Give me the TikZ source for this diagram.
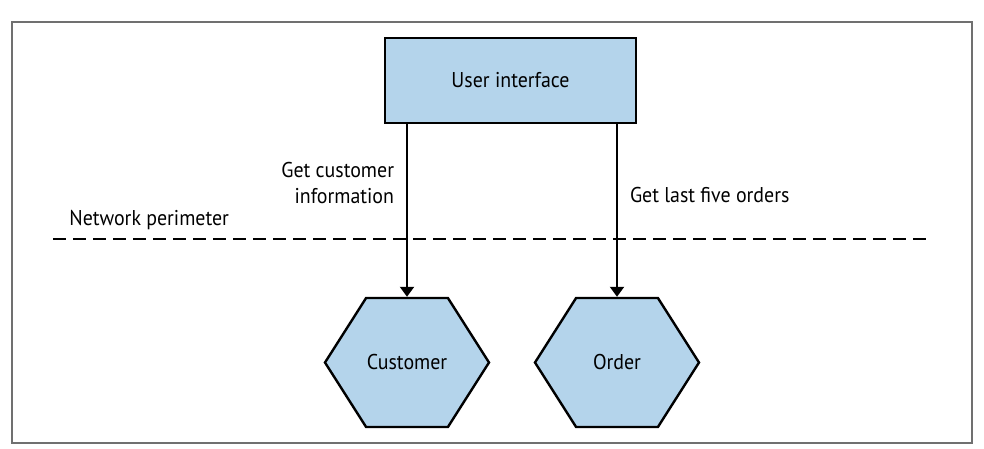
\documentclass[tikz,border=0pt]{standalone}
\usepackage{fontspec}
\setmainfont{PT Sans}[FakeStretch=0.93]
\usepackage{xcolor}
\usetikzlibrary{shapes.symbols, arrows.meta, positioning}

\definecolor{paleblue}{RGB}{180,212,235}
\definecolor{framegray}{RGB}{112,112,112}

\begin{document}
\begin{tikzpicture}[
    x=0.5pt, y=-0.5pt,
    font=\fontsize{10.7}{13}\selectfont,
    box/.style={
        rectangle,
        draw=black,
        line width=1.2pt,
        fill=paleblue,
        minimum width=125.5pt,
        minimum height=42.5pt
    },
    service/.style={
        signal,
        signal to=east and west,
        signal pointer angle=115,
        draw=black,
        line width=1.2pt,
        fill=paleblue,
        minimum width=82pt,
        minimum height=64.5pt,
        inner sep=0pt
    },
    lbl/.style={inner sep=1pt},
    call/.style={-{Triangle[length=5pt, width=7pt]}, line width=1pt}
]
    \useasboundingbox (0,0) rectangle (984,449);

    % Frame
    \draw[framegray, line width=1pt] (12,22) rectangle (972,443);

    % 1. User interface (Top)
    \node (ui) [box] at (510.5,80.5) {User interface};

    % 2. Customer and Order (Bottom)
    \node (cust) [service] at (407,362.5) {Customer};
    \node (order) [service] at (617,362.5) {Order};

    % 3. Network perimeter
    \coordinate (perimL) at (53,239);
    \coordinate (perimR) at (932,239);
    \draw[line width=1.4pt, dash pattern=on 6.5pt off 3.5pt] (perimL) -- (perimR);
    \node (netlbl) [lbl, anchor=west] at (67,220) {Network perimeter};

    % Calls
    \draw[call] (cust.north |- ui.south) -- node[lbl, left=5pt, pos=0.34, align=right] {Get customer\\information} (cust.north);
    \draw[call] (order.north |- ui.south) -- node[lbl, right=5pt, pos=0.41] {Get last five orders} (order.north);

\end{tikzpicture}
\end{document}
